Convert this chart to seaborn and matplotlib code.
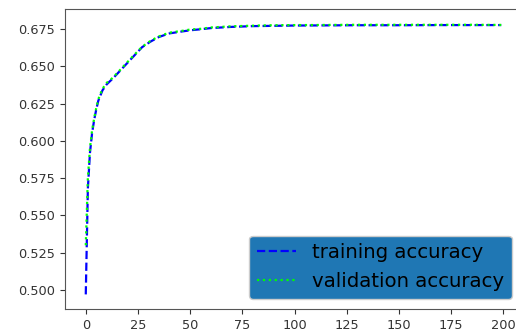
import matplotlib
matplotlib.use("Agg")
import matplotlib.pyplot as plt
import seaborn as sns
import pandas as pd

# Sampled epochs and accuracy per epoch
epochs = [0, 1, 2, 3, 4, 5, 6, 8, 10, 13, 16, 19, 23, 27, 31, 35, 40, 45,
          50, 55, 60, 70, 80, 90, 100, 115, 130, 150, 170, 185, 199]
train_acc = [0.497, 0.568, 0.592, 0.605, 0.614, 0.621, 0.627, 0.634, 0.638,
             0.642, 0.6465, 0.651, 0.657, 0.663, 0.6667, 0.6698, 0.6722,
             0.6733, 0.6743, 0.6750, 0.6758, 0.6766, 0.6771, 0.6773, 0.6775,
             0.6776, 0.6777, 0.6777, 0.6778, 0.6778, 0.6778]
val_acc = [0.530, 0.575, 0.595, 0.607, 0.615, 0.622, 0.628, 0.635, 0.639,
           0.6425, 0.647, 0.6515, 0.6575, 0.6632, 0.6672, 0.6702, 0.6727,
           0.6737, 0.6748, 0.6753, 0.6762, 0.6770, 0.6774, 0.6777, 0.6778,
           0.6779, 0.6780, 0.6780, 0.6780, 0.6780, 0.6779]

df = pd.DataFrame({"epoch": epochs, "train": train_acc, "val": val_acc})

fig = plt.figure(figsize=(5.16, 3.35), dpi=100)
ax = fig.add_axes([65 / 516, 1 - 309 / 335, (522 - 65) / 516, 300 / 335])

sns.lineplot(data=df, x="epoch", y="train", ax=ax, color="b",
             linestyle="--", linewidth=1.6, label="training accuracy")
sns.lineplot(data=df, x="epoch", y="val", ax=ax, color="lime",
             linestyle=":", linewidth=1.6, label="validation accuracy")

ax.set_xlim(-9.95, 208.95)
ax.set_ylim(0.4872, 0.6886)
ax.set_xticks([0, 25, 50, 75, 100, 125, 150, 175, 200])
ax.set_yticks([0.500, 0.525, 0.550, 0.575, 0.600, 0.625, 0.650, 0.675])
ax.set_yticklabels([f"{v:.3f}" for v in ax.get_yticks()])
ax.set_xlabel("")
ax.set_ylabel("")
ax.tick_params(labelsize=9.3, colors="#333333", labelcolor="#333333")
for s in ax.spines.values():
    s.set_color("#555555")

leg = ax.legend(loc="lower right", fontsize=14.2, facecolor="#1f77b4",
                framealpha=1.0, edgecolor="#cccccc")

fig.savefig("out.png", dpi=100)
